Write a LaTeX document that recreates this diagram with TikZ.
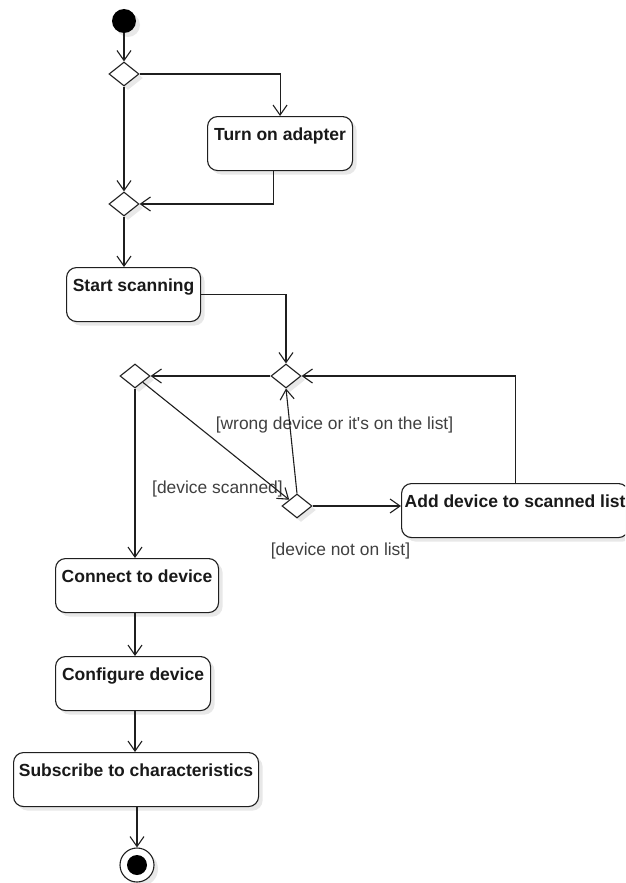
\documentclass[tikz,border=0pt]{standalone}
\usepackage{fontspec}
\setmainfont{Liberation Sans}
\usetikzlibrary{arrows.meta,shapes.geometric,shadows}
\begin{document}
\begin{tikzpicture}[x=1pt,y=-1pt,
  ink/.style={draw=black!88, line width=1.1pt},
  shade/.style={drop shadow={shadow xshift=4pt, shadow yshift=-4pt, fill=black!9, opacity=1}},
  actbox/.style={ink, shade, fill=white, rectangle, rounded corners=10pt,
    inner sep=0pt, text height=24pt, text depth=30pt, align=center, anchor=north west,
    font=\fontsize{17.5}{20}\selectfont\bfseries, text=black!90},
  choice/.style={ink, shade, fill=white, diamond, aspect=1.25, inner sep=0pt,
    minimum width=30pt, minimum height=24pt},
  flow/.style={ink, -{Straight Barb[length=10pt,width=14pt]}},
  guard/.style={font=\fontsize{17.4}{20}\selectfont, text=black!75, inner sep=0pt}
]
\clip (0,0) rectangle (625,883);
\fill[white] (0,0) rectangle (625,883);

% start and end markers
\node[circle, fill=black, shade, minimum size=24pt, inner sep=0pt] (init) at (124,21) {};
\node[circle, ink, fill=white, shade, minimum size=34pt, inner sep=0pt] (final) at (137,865) {};
\node[circle, fill=black, minimum size=20pt, inner sep=0pt] (finaldot) at (final) {};

% decision / merge points
\node[choice] (d1) at (124,74) {};
\node[choice] (d2) at (124,204) {};
\node[choice] (d3) at (286,376) {};
\node[choice] (d4) at (135,376) {};
\node[choice] (d5) at (297,506) {};

% actions
\node[actbox, minimum width=145pt] (turn) at (207,116) {Turn on adapter};
\node[actbox, minimum width=134pt] (scan) at (66,267) {Start scanning};
\node[actbox, minimum width=227pt] (add) at (401,483) {Add device to scanned list};
\node[actbox, minimum width=163pt] (conn) at (55,558) {Connect to device};
\node[actbox, minimum width=155pt] (conf) at (55,656) {Configure device};
\node[actbox, minimum width=245pt] (subs) at (13,752) {Subscribe to characteristics};

% guards
\node[guard, anchor=center] (gwrong) at (334.5,425) {[wrong device or it\textquotesingle s on the list]};
\node[guard, anchor=west] (gscan) at (152,489) {[device scanned]};
\node[guard, anchor=center] (gnot) at (340.5,551) {[device not on list]};

% flows
\draw[flow] (init) -- (d1.north);
\draw[flow] (d1.east) -| (turn.north);
\draw[flow] (d1.south) -- (d2.north);
\draw[flow] ([xshift=-6.5pt]turn.south) |- (d2.east);
\draw[flow] (d2.south) -- (d2.south |- scan.north);
\draw[flow] (scan.east) -| (d3.north);
\draw[flow] (d3.west) -- (d4.east);
\draw[flow] (add.north) |- (d3.east);
\draw[flow] (d4) -- (d5);
\draw[flow] (d5.north) -- (d3.south);
\draw[flow] (d5.east) -- (d5.east -| add.west);
\draw[flow] (d4.south) -- (d4.south |- conn.north);
\draw[flow] (conn.south -| d4.south) -- (conf.north -| d4.south);
\draw[flow] (conf.south -| d4.south) -- (subs.north -| d4.south);
\draw[flow] (subs.south -| final.north) -- (final.north);
\end{tikzpicture}
\end{document}
